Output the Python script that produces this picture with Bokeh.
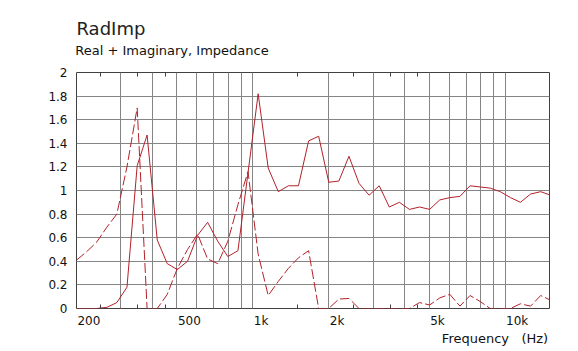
from bokeh.plotting import figure
from bokeh.models import (Range1d, FixedTicker, LogAxis,
                          CustomJSTickFormatter)
from bokeh.embed import file_html
from bokeh.resources import INLINE

# ---- data ----
freq = [200, 219, 240, 264, 289, 317, 348, 381, 418, 458, 502, 551, 604, 662,
        726, 796, 873, 957, 1050, 1151, 1262, 1384, 1517, 1664, 1824, 2000,
        2193, 2405, 2637, 2891, 3170, 3476, 3811, 4178, 4582, 5024, 5508, 6040,
        6623, 7262, 7962, 8730, 9573, 10497, 11509, 12619, 13838, 15173]
real = [0, 0, 0, 0.01, 0.05, 0.18, 1.21, 1.47, 0.58, 0.38, 0.33, 0.40, 0.62,
        0.73, 0.57, 0.44, 0.49, 1.15, 1.82, 1.19, 0.99, 1.04, 1.04, 1.42, 1.46,
        1.07, 1.08, 1.29, 1.06, 0.96, 1.04, 0.86, 0.90, 0.84, 0.86, 0.84, 0.92,
        0.94, 0.95, 1.04, 1.03, 1.02, 0.99, 0.94, 0.90, 0.97, 0.99, 0.96]
imag = [0.41, 0.48, 0.56, 0.69, 0.80, 1.20, 1.70, 0, 0, 0.12, 0.34, 0.50, 0.63,
        0.42, 0.38, 0.57, 0.88, 1.16, 0.46, 0.11, 0.23, 0.34, 0.43, 0.49, 0, 0,
        0.08, 0.085, 0, 0, 0, 0, 0, 0, 0.05, 0.03, 0.09, 0.12, 0.02, 0.11, 0.06,
        0, 0, 0, 0.04, 0.02, 0.11, 0.07]

x_label_vals = [200, 500, 1000, 2000, 5000, 10000]
x_label_text = ["200", "500", "1k", "2k", "5k", "10k"]
x_grid_vals = [300, 400, 500, 600, 700, 800, 900, 1000, 2000, 3000, 4000,
               5000, 6000, 7000, 8000, 9000, 10000]
x_minor_vals = [250, 350, 450, 1500, 2500, 3500, 4500]
y_ticks = [0, 0.2, 0.4, 0.6, 0.8, 1, 1.2, 1.4, 1.6, 1.8, 2]

title_text = "RadImp"
subtitle_text = "Real + Imaginary, Impedance"
x_axis_text = "Frequency\u00a0\u00a0\u00a0(Hz)"

RED = "#b3212a"
GRID = "#858585"
FRAME = "#404040"
TXT = "#111111"
FONT = "DejaVu Sans"

X0, X1 = 200, 15000
FRAME_W = 578 - 76 - 29
PX_PER_DEC = FRAME_W / 1.8751  # log10(15000/200)

p = figure(width=578, height=351, x_axis_type="log",
           x_range=Range1d(X0, X1), y_range=Range1d(0, 2),
           output_backend="svg", toolbar_location=None,
           min_border_left=76, min_border_right=29,
           min_border_top=72, min_border_bottom=43)
p.background_fill_color = "white"
p.border_fill_color = "white"
p.outline_line_color = FRAME
p.outline_line_width = 1

# main title
p.title.text = title_text
p.title.align = "left"
p.title.text_font = FONT
p.title.text_font_size = "18px"
p.title.text_font_style = "normal"
p.title.text_color = "#222222"
p.title.standoff = 2

# grids
p.xgrid.ticker = FixedTicker(ticks=x_grid_vals)
p.ygrid.ticker = FixedTicker(ticks=y_ticks)
for g in (p.xgrid, p.ygrid):
    g.grid_line_color = GRID
    g.grid_line_width = 1

def char_w(c):
    return 0.579 if c == "k" else 0.636

def left_anchor(v, width_px, pad=1):
    # tick position that puts a centred label's left edge at v (+pad px)
    return v * 10 ** ((pad + width_px / 2) / PX_PER_DEC)

# bottom axis: left-aligned tick labels + inward minor ticks
label_pos = [left_anchor(v, sum(char_w(c) for c in t) * 12)
             for v, t in zip(x_label_vals, x_label_text)]

xa = p.xaxis[0]
xa.ticker = FixedTicker(ticks=label_pos, minor_ticks=x_minor_vals)
xa.formatter = CustomJSTickFormatter(args=dict(labels=x_label_text),
                                     code="return labels[index]")
xa.axis_line_color = None
xa.major_tick_in = 0
xa.major_tick_out = 0
xa.minor_tick_in = 4
xa.minor_tick_out = 0
xa.minor_tick_line_color = FRAME
xa.major_label_standoff = 5
xa.major_label_text_font = FONT
xa.major_label_text_font_size = "12px"
xa.major_label_text_color = TXT

# axis name, right-aligned to the frame edge
name_w = 107
name_pos = X1 * 10 ** (-(1 + name_w / 2) / PX_PER_DEC)
xa2 = LogAxis(ticker=FixedTicker(ticks=[name_pos]),
              formatter=CustomJSTickFormatter(args=dict(t=x_axis_text), code="return t"),
              axis_line_color=None, major_tick_in=0, major_tick_out=0,
              minor_tick_line_color=None, major_label_standoff=0,
              major_label_text_font=FONT, major_label_text_font_size="13px",
              major_label_text_color=TXT)
p.add_layout(xa2, "below")

# top axis: inward minor ticks + the subtitle as a left-aligned label
sub_pos = left_anchor(X0, 191, pad=0)
top = LogAxis(ticker=FixedTicker(ticks=[sub_pos], minor_ticks=x_minor_vals),
              formatter=CustomJSTickFormatter(args=dict(t=subtitle_text), code="return t"),
              axis_line_color=None, major_tick_in=0, major_tick_out=0,
              minor_tick_in=4, minor_tick_out=0, minor_tick_line_color=FRAME,
              major_label_standoff=15, major_label_text_font=FONT,
              major_label_text_font_size="13px", major_label_text_color=TXT)
p.add_layout(top, "above")

ya = p.yaxis[0]
ya.ticker = FixedTicker(ticks=y_ticks)
ya.formatter = CustomJSTickFormatter(code="return String(Math.round(tick*10)/10)")
ya.axis_line_color = None
ya.major_tick_in = 0
ya.major_tick_out = 0
ya.minor_tick_line_color = None
ya.major_label_standoff = 9
ya.major_label_text_font = FONT
ya.major_label_text_font_size = "12px"
ya.major_label_text_color = TXT

# curves
p.line(freq, real, line_color=RED, line_width=1)
p.line(freq, imag, line_color=RED, line_width=1, line_dash="10 3")

open("out.html", "w").write(file_html(p, INLINE))
